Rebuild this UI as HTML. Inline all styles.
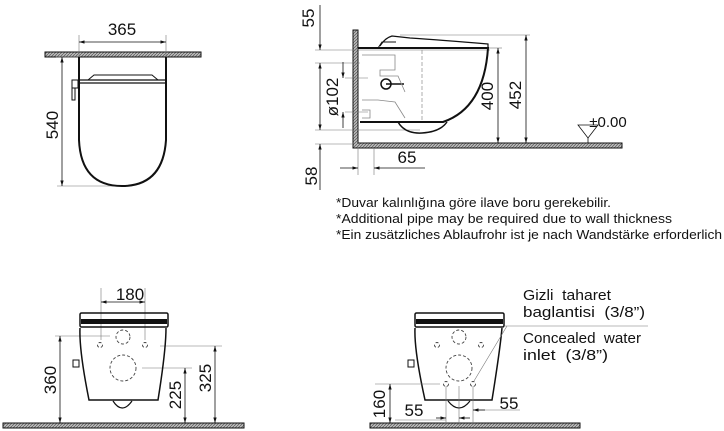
<!DOCTYPE html>
<html><head><meta charset="utf-8"><style>
html,body{margin:0;padding:0;background:#fff;width:724px;height:431px;overflow:hidden}
svg{display:block}
text{font-family:"Liberation Sans",sans-serif;fill:#111}
</style></head><body>
<svg width="724" height="431" viewBox="0 0 724 431" xmlns="http://www.w3.org/2000/svg">
<defs>
<pattern id="h" width="3" height="3" patternUnits="userSpaceOnUse"><rect width="3" height="3" fill="#bbb"/><path d="M0 3L3 0" stroke="#555" stroke-width="0.7"/></pattern>
<marker id="a" viewBox="0 0 10 10" refX="10" refY="5" markerWidth="7" markerHeight="7" orient="auto-start-reverse"><path d="M0 2L10 5L0 8z" fill="#111"/></marker>
</defs>
<g stroke="#111" fill="none">
<!-- TOP LEFT -->
<rect x="45" y="52" width="156" height="5" fill="url(#h)" stroke-width="1"/>
<g stroke-width="0.6" stroke="#777"><line x1="79" y1="35" x2="79" y2="57"/><line x1="166" y1="35" x2="166" y2="57"/><line x1="57" y1="186" x2="125" y2="186"/><line x1="56" y1="57" x2="79" y2="57"/></g>
<line x1="79" y1="42" x2="166" y2="42" stroke-width="0.8" marker-start="url(#a)" marker-end="url(#a)"/>
<line x1="62" y1="57" x2="62" y2="186" stroke-width="0.8" marker-start="url(#a)" marker-end="url(#a)"/>
<path d="M79 57 V140 Q81 186 122 186 Q163 186 166 140 V57" stroke-width="2"/>
<path d="M80 80 H166 M80 83 H166" stroke-width="1.2"/>
<path d="M88 80 L94 75 H152 L158 80" stroke-width="1"/>
<rect x="72" y="80" width="6" height="8" stroke-width="1"/><rect x="72" y="88" width="3" height="12" stroke-width="1"/>
<!-- TOP RIGHT -->
<path d="M353 30 H358 V143 H622 V148 H353 Z" fill="url(#h)" stroke-width="1"/>
<g stroke-width="0.6" stroke="#777">
<line x1="315" y1="50" x2="490" y2="50"/><line x1="315" y1="63" x2="360" y2="63"/><line x1="315" y1="130" x2="420" y2="130"/><line x1="315" y1="144" x2="353" y2="144"/>
<line x1="400" y1="35" x2="530" y2="35"/><line x1="488" y1="48" x2="502" y2="48"/>
<line x1="358" y1="148" x2="358" y2="175"/><line x1="374" y1="148" x2="374" y2="175"/>
<line x1="345" y1="78" x2="368" y2="78"/><line x1="345" y1="112" x2="368" y2="112"/>
<line x1="422" y1="50" x2="422" y2="122" stroke-dasharray="4 2"/>
</g>
<line x1="320" y1="5" x2="320" y2="50" stroke-width="0.8" marker-end="url(#a)"/>
<line x1="320" y1="63" x2="320" y2="130" stroke-width="0.8" marker-start="url(#a)" marker-end="url(#a)"/>
<line x1="343" y1="62" x2="343" y2="78" stroke-width="0.8" marker-end="url(#a)"/>
<line x1="343" y1="128" x2="343" y2="112" stroke-width="0.8" marker-end="url(#a)"/>
<line x1="320" y1="190" x2="320" y2="144" stroke-width="0.8" marker-end="url(#a)"/>
<line x1="498" y1="48" x2="498" y2="143" stroke-width="0.8" marker-start="url(#a)" marker-end="url(#a)"/>
<line x1="526" y1="35" x2="526" y2="143" stroke-width="0.8" marker-start="url(#a)" marker-end="url(#a)"/>
<line x1="340" y1="168" x2="358" y2="168" stroke-width="0.8" marker-end="url(#a)"/>
<line x1="425" y1="168" x2="374" y2="168" stroke-width="0.8" marker-end="url(#a)"/>
<path d="M358 48 H488 Q484 108 443 122 H360" stroke-width="2"/>
<path d="M398 122 Q405 134 422 133 Q440 132 447 122" stroke-width="1.5"/>
<path d="M380 46 Q385 38 392 36 L410 38 Q440 40 488 44 V48" stroke-width="1.2"/>
<path d="M378 48 L382 42 H396" stroke-width="1"/>
<circle cx="386" cy="84" r="5" stroke-width="1.5"/><path d="M386 84 H404" stroke-width="1.5"/>
<g stroke="#888" stroke-width="0.8"><path d="M362 55 H395 V70 H380 V76 H398 L405 92"/><path d="M362 100 H378 L395 102 L405 118"/><path d="M362 110 H370 V118 H362"/></g>
<path d="M578 125 L588 138 L598 125 Z" stroke-width="0.8"/><line x1="588" y1="138" x2="588" y2="143" stroke-width="0.8"/>
<!-- BOTTOM LEFT -->
<rect x="3" y="423" width="241" height="5" fill="url(#h)" stroke-width="1"/>
<g stroke-width="0.6" stroke="#777">
<line x1="101" y1="288" x2="101" y2="340"/><line x1="145" y1="288" x2="145" y2="340"/>
<line x1="55" y1="336" x2="110" y2="336"/><line x1="160" y1="346" x2="222" y2="346"/><line x1="142" y1="368" x2="192" y2="368"/>
</g>
<line x1="101" y1="302" x2="145" y2="302" stroke-width="0.8" marker-start="url(#a)" marker-end="url(#a)"/>
<line x1="60" y1="336" x2="60" y2="423" stroke-width="0.8" marker-start="url(#a)" marker-end="url(#a)"/>
<line x1="185" y1="368" x2="185" y2="423" stroke-width="0.8" marker-start="url(#a)" marker-end="url(#a)"/>
<line x1="215" y1="346" x2="215" y2="423" stroke-width="0.8" marker-start="url(#a)" marker-end="url(#a)"/>
<rect x="80" y="313" width="88" height="14" rx="1.5" stroke-width="1.5"/>
<rect x="81" y="319" width="86" height="5" fill="#111" stroke="none"/>
<path d="M80 328 Q79 350 89 400 H158 Q166 350 166 328" stroke-width="1.5"/>
<path d="M113 401 Q122 415 132 401" stroke-width="1.2"/>
<rect x="73" y="360" width="6" height="7" stroke-width="1"/>
<g stroke="#444" stroke-width="0.9" stroke-dasharray="3 2"><circle cx="123" cy="337" r="7"/><circle cx="123" cy="368" r="13"/><circle cx="100" cy="345" r="2.5"/><circle cx="145" cy="345" r="2.5"/></g>
<!-- BOTTOM RIGHT -->
<rect x="370" y="423" width="210" height="5" fill="url(#h)" stroke-width="1"/>
<rect x="415" y="313" width="89" height="14" rx="1.5" stroke-width="1.5"/>
<rect x="416" y="319" width="87" height="5" fill="#111" stroke="none"/>
<path d="M415 328 Q414 350 425 400 H492 Q500 350 502 328" stroke-width="1.5"/>
<path d="M448 401 Q459 415 470 401" stroke-width="1.2"/>
<rect x="408" y="360" width="6" height="7" stroke-width="1"/>
<g stroke="#444" stroke-width="0.9" stroke-dasharray="3 2"><circle cx="459" cy="337" r="7"/><circle cx="459" cy="368" r="13"/><circle cx="437" cy="345" r="2.5"/><circle cx="481" cy="345" r="2.5"/><circle cx="446" cy="384" r="2.5"/><circle cx="473" cy="384" r="2.5"/></g>
<g stroke-width="0.6" stroke="#777">
<line x1="505" y1="326" x2="648" y2="326"/><line x1="507" y1="326" x2="474" y2="381"/>
<line x1="375" y1="384" x2="440" y2="384"/>
<line x1="446" y1="386" x2="446" y2="425"/><line x1="459" y1="386" x2="459" y2="425"/><line x1="473" y1="386" x2="473" y2="425"/>
<line x1="395" y1="420" x2="446" y2="420"/><line x1="473" y1="410" x2="520" y2="410"/>
</g>
<line x1="390" y1="384" x2="390" y2="423" stroke-width="0.8" marker-start="url(#a)" marker-end="url(#a)"/>
<line x1="436" y1="418" x2="446" y2="418" stroke-width="0.8" marker-end="url(#a)"/>
<line x1="470" y1="418" x2="459" y2="418" stroke-width="0.8" marker-end="url(#a)"/>
<line x1="485" y1="410" x2="473" y2="410" stroke-width="0.8" marker-end="url(#a)"/>
</g>
<g font-size="17">
<text x="122" y="35" text-anchor="middle">365</text>
<text transform="translate(58,125) rotate(-90)" text-anchor="middle">540</text>
<text transform="translate(314,18) rotate(-90)" text-anchor="middle">55</text>
<text transform="translate(338,97) rotate(-90)" text-anchor="middle">ø102</text>
<text transform="translate(493,96) rotate(-90)" text-anchor="middle">400</text>
<text transform="translate(521,95) rotate(-90)" text-anchor="middle">452</text>
<text transform="translate(317,176) rotate(-90)" text-anchor="middle">58</text>
<text x="407" y="163" text-anchor="middle">65</text>
<text x="608" y="127" text-anchor="middle" font-size="15">±0.00</text>
<text x="130" y="300" text-anchor="middle">180</text>
<text transform="translate(56,380) rotate(-90)" text-anchor="middle">360</text>
<text transform="translate(181,395) rotate(-90)" text-anchor="middle">225</text>
<text transform="translate(211,378) rotate(-90)" text-anchor="middle">325</text>
<text transform="translate(385,404) rotate(-90)" text-anchor="middle">160</text>
<text x="414" y="416" text-anchor="middle">55</text>
<text x="509" y="409" text-anchor="middle">55</text>
</g>
<g font-size="13">
<text x="336" y="207" textLength="275" lengthAdjust="spacingAndGlyphs">*Duvar kalınlığına göre ilave boru gerekebilir.</text>
<text x="336" y="223" textLength="336" lengthAdjust="spacingAndGlyphs">*Additional pipe may be required due to wall thickness</text>
<text x="336" y="239" textLength="386" lengthAdjust="spacingAndGlyphs">*Ein zusätzliches Ablaufrohr ist je nach Wandstärke erforderlich</text>
</g>
<g font-size="14.5">
<text x="523" y="300" textLength="88" lengthAdjust="spacingAndGlyphs">Gizli&#160;&#160;taharet</text>
<text x="523" y="317" textLength="122" lengthAdjust="spacingAndGlyphs">baglantisi&#160;&#160;(3/8”)</text>
<text x="523" y="343" textLength="118" lengthAdjust="spacingAndGlyphs">Concealed&#160;&#160;water</text>
<text x="523" y="360" textLength="85" lengthAdjust="spacingAndGlyphs">inlet&#160;&#160;(3/8”)</text>
</g>
</svg>
</body></html>
